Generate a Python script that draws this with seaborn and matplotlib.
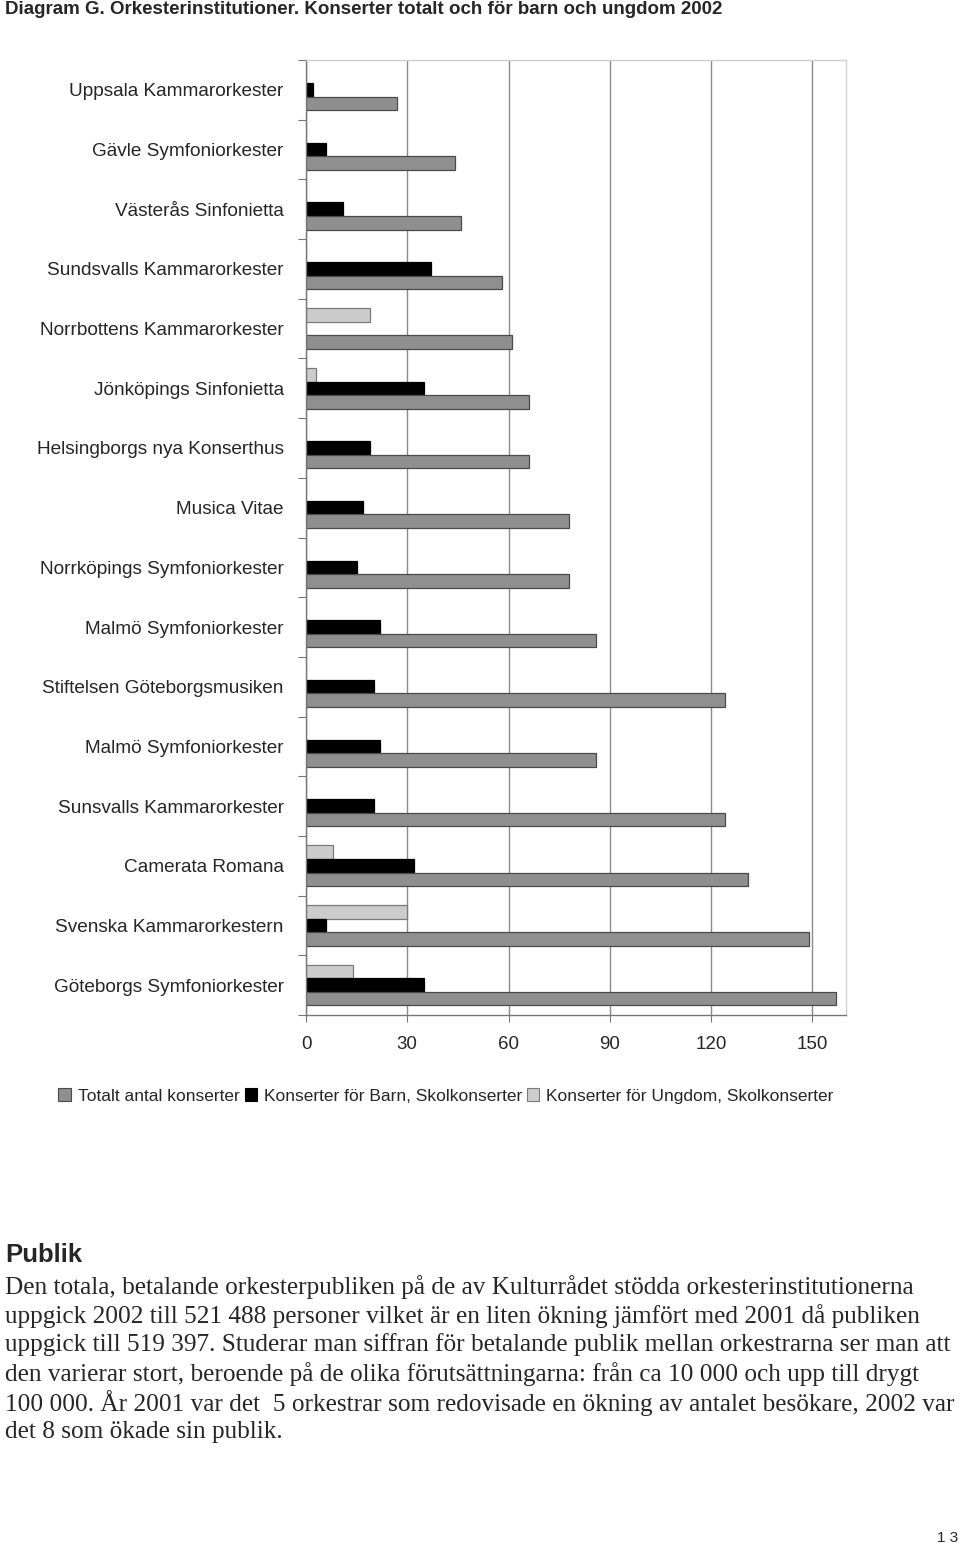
"""Diagram G: konserter totalt och för barn och ungdom 2002, per orkester."""

import matplotlib

matplotlib.use("Agg")

import matplotlib.pyplot as plt
import numpy as np
import pandas as pd
import seaborn as sns
from matplotlib.patches import Patch

ORKESTRAR = [
    "Uppsala Kammarorkester",
    "Gävle Symfoniorkester",
    "Västerås Sinfonietta",
    "Sundsvalls Kammarorkester",
    "Norrbottens Kammarorkester",
    "Jönköpings Sinfonietta",
    "Helsingborgs nya Konserthus",
    "Musica Vitae",
    "Norrköpings Symfoniorkester",
    "Malmö Symfoniorkester",
    "Stiftelsen Göteborgsmusiken",
    "Malmö Symfoniorkester",
    "Sunsvalls Kammarorkester",
    "Camerata Romana",
    "Svenska Kammarorkestern",
    "Göteborgs Symfoniorkester",
]

TOTALT = [27, 44, 46, 58, 61, 66, 66, 78, 78, 86, 124, 86, 124, 131, 149, 157]
BARN = [2, 6, 11, 37, np.nan, 35, 19, 17, 15, 22, 20, 22, 20, 32, 6, 35]
UNGDOM = [np.nan, np.nan, np.nan, np.nan, 19, 3, np.nan, np.nan, np.nan,
          np.nan, np.nan, np.nan, np.nan, 8, 30, 14]

SERIER = [
    "Konserter för Ungdom, Skolkonserter",
    "Konserter för Barn, Skolkonserter",
    "Totalt antal konserter",
]
FARGER = {SERIER[0]: "#cccccc", SERIER[1]: "#000000", SERIER[2]: "#8f8f8f"}
KANTER = {SERIER[0]: "#7a7a7a", SERIER[1]: "#000000", SERIER[2]: "#4a4a4a"}

X_TICKS = [0, 30, 60, 90, 120, 150]

TITEL = "Diagram G. Orkesterinstitutioner. Konserter totalt och för barn och ungdom 2002"
RUBRIK = "Publik"
BRODTEXT = [
    "Den totala, betalande orkesterpubliken på de av Kulturrådet stödda orkesterinstitutionerna",
    "uppgick 2002 till 521 488 personer vilket är en liten ökning jämfört med 2001 då publiken",
    "uppgick till 519 397. Studerar man siffran för betalande publik mellan orkestrarna ser man att",
    "den varierar stort, beroende på de olika förutsättningarna: från ca 10 000 och upp till drygt",
    "100 000. År 2001 var det  5 orkestrar som redovisade en ökning av antalet besökare, 2002 var",
    "det 8 som ökade sin publik.",
]

W, H = 960, 1546

sns.set_theme(style="white")
plt.rcParams["font.family"] = ["Liberation Sans", "DejaVu Sans"]

rows = []
for i in range(len(ORKESTRAR)):
    rows.append({"rad": i, "serie": SERIER[0], "antal": UNGDOM[i]})
    rows.append({"rad": i, "serie": SERIER[1], "antal": BARN[i]})
    rows.append({"rad": i, "serie": SERIER[2], "antal": TOTALT[i]})
df = pd.DataFrame(rows)

fig = plt.figure(figsize=(W / 100, H / 100), dpi=100)
ax = fig.add_axes([306 / W, 1 - 1015 / H, 540 / W, 955 / H])

sns.barplot(
    data=df, y="rad", x="antal", hue="serie", hue_order=SERIER,
    orient="h", palette=FARGER, width=0.68, dodge=True, gap=0,
    errorbar=None, legend=False, ax=ax,
)
for serie, cont in zip(SERIER, ax.containers):
    for bar in cont:
        bar.set_edgecolor(KANTER[serie])
        bar.set_linewidth(0.9)

ax.set_xlim(0, 160)
ax.set_ylim(len(ORKESTRAR) - 0.5, -0.5)
ax.set_xticks(X_TICKS)
ax.set_xticklabels([str(t) for t in X_TICKS], fontsize=13.5)
ax.set_yticks(range(len(ORKESTRAR)))
ax.set_yticklabels(ORKESTRAR, fontsize=13.7)
ax.set_yticks(np.arange(-0.5, len(ORKESTRAR), 1), minor=True)
ax.tick_params(axis="y", which="major", length=0, pad=16)
ax.tick_params(axis="y", which="minor", left=True, length=6, width=0.8, color="#777777")
ax.tick_params(axis="x", bottom=True, length=5, width=0.8, color="#777777", pad=10)
ax.set_xlabel("")
ax.set_ylabel("")
ax.xaxis.grid(True, color="#8a8a8a", linewidth=1)
ax.set_axisbelow(True)
for side in ["left", "bottom"]:
    ax.spines[side].set_color("#777777")
    ax.spines[side].set_linewidth(1)
for side in ["top", "right"]:
    ax.spines[side].set_color("#cfcfcf")
    ax.spines[side].set_linewidth(1)

handles = [Patch(facecolor=FARGER[s], edgecolor=KANTER[s], linewidth=0.8) for s in SERIER[::-1]]
fig.legend(
    handles, SERIER[::-1], loc="center", bbox_to_anchor=(446 / W, 1 - 1096 / H),
    ncol=3, frameon=False, fontsize=12.5, handlelength=0.7, handleheight=0.7,
    handletextpad=0.4, columnspacing=0.3,
)

fig.text(5 / W, 1 - 10 / H, TITEL, fontsize=13.5, fontweight="bold", va="center",
         family=["Liberation Sans Narrow", "Liberation Sans"])
fig.text(5 / W, 1 - 1255 / H, RUBRIK, fontsize=18.5, fontweight="bold", va="center")
for n, line in enumerate(BRODTEXT):
    fig.text(5 / W, 1 - (1287 + 29 * n) / H, line, fontsize=18.2, va="center",
             family=["Liberation Serif", "DejaVu Serif"])
fig.text(937 / W, 1 - 1538 / H, "1 3", fontsize=11, va="center")

fig.savefig("out.png", dpi=100)
